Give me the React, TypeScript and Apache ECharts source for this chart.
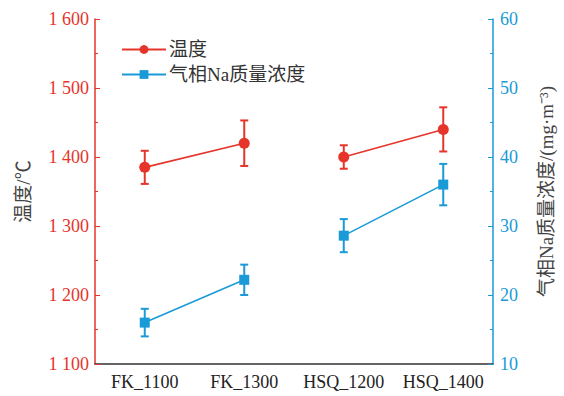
import React, { useEffect, useRef } from "react";
import * as echarts from "echarts";

const categories = ["FK_1100", "FK_1300", "HSQ_1200", "HSQ_1400"];
const tempValues = [1385, 1420, 1400, 1440];
const tempErr = [24, 33, 17, 32];
const naValues = [16, 22.2, 28.6, 36];
const naErr = [2, 2.2, 2.4, 3];
const groupOf = [0, 0, 1, 1];

const RED = "#e6342b";
const BLUE = "#1a9ad6";
const FONT = "'Liberation Serif', 'Noto Sans CJK SC', serif";

function errSeries(values: number[], errs: number[], color: string, yAxisIndex: number) {
  return {
    type: "custom",
    yAxisIndex,
    z: 1,
    silent: true,
    encode: { x: 0, y: [1, 2] },
    data: values.map((v, i) => [i, v - errs[i], v + errs[i]]),
    renderItem: (params: any, api: any) => {
      const lo = api.coord([api.value(0), api.value(1)]);
      const hi = api.coord([api.value(0), api.value(2)]);
      const hw = 4;
      const style = { stroke: color, lineWidth: 2 };
      return {
        type: "group",
        children: [
          { type: "line", shape: { x1: lo[0], y1: lo[1], x2: hi[0], y2: hi[1] }, style },
          { type: "line", shape: { x1: lo[0] - hw, y1: lo[1], x2: lo[0] + hw, y2: lo[1] }, style },
          { type: "line", shape: { x1: hi[0] - hw, y1: hi[1], x2: hi[0] + hw, y2: hi[1] }, style },
        ],
      };
    },
  };
}

function lineSeries(name: string, values: number[], g: number, color: string, symbol: string, yAxisIndex: number) {
  return {
    name,
    type: "line",
    yAxisIndex,
    z: 3,
    data: values.map((v, i) => (groupOf[i] === g ? v : "-")),
    symbol,
    symbolSize: symbol === "circle" ? 11 : 10,
    itemStyle: { color },
    lineStyle: { color, width: 1.6 },
    connectNulls: false,
  };
}

export default function App() {
  const ref = useRef<HTMLDivElement>(null);
  useEffect(() => {
    if (!ref.current) return;
    const chart = echarts.init(ref.current, undefined, { renderer: "svg" });
    chart.setOption({
      animation: false,
      backgroundColor: "#ffffff",
      grid: { left: 95, right: 70, top: 19, bottom: 32 },
      legend: {
        left: 116,
        top: 35,
        orient: "vertical",
        itemGap: 6,
        itemWidth: 44,
        itemHeight: 11,
        data: ["温度", "气相Na质量浓度"],
        textStyle: { fontFamily: FONT, fontSize: 19, color: "#333", padding: [0, 0, 0, -2] },
      },
      xAxis: {
        type: "category",
        data: categories,
        boundaryGap: true,
        axisLine: { lineStyle: { color: "#333", width: 1.5 } },
        axisTick: { alignWithLabel: true, inside: true, length: 6, lineStyle: { color: "#333" } },
        axisLabel: { interval: 0, hideOverlap: false, fontFamily: FONT, fontSize: 18, color: "#222", margin: 9 },
      },
      yAxis: [
        {
          type: "value",
          min: 1100,
          max: 1600,
          interval: 100,
          name: "温度/℃",
          nameLocation: "middle",
          nameRotate: 90,
          nameGap: 62,
          nameTextStyle: { fontFamily: FONT, fontSize: 19, color: "#444" },
          axisLine: { show: true, lineStyle: { color: RED, width: 1.5 } },
          axisTick: { show: true, inside: true, length: 5, lineStyle: { color: RED } },
          minorTick: { show: true, splitNumber: 2, length: 3, lineStyle: { color: RED } },
          splitLine: { show: false },
          axisLabel: {
            fontFamily: FONT,
            fontSize: 18,
            color: RED,
            margin: 6,
            formatter: (v: number) => {
              const s = String(v);
              return s.length > 3 ? s.slice(0, s.length - 3) + " " + s.slice(s.length - 3) : s;
            },
          },
        },
        {
          type: "value",
          min: 10,
          max: 60,
          interval: 10,
          position: "right",
          name: "气相Na质量浓度/(mg·m⁻³)",
          nameLocation: "middle",
          nameRotate: 90,
          nameGap: 44,
          nameTextStyle: { fontFamily: FONT, fontSize: 19, color: "#444" },
          axisLine: { show: true, lineStyle: { color: BLUE, width: 1.5 } },
          axisTick: { show: true, inside: true, length: 5, lineStyle: { color: BLUE } },
          minorTick: { show: true, splitNumber: 2, length: 3, lineStyle: { color: BLUE } },
          splitLine: { show: false },
          axisLabel: { fontFamily: FONT, fontSize: 18, color: BLUE, margin: 7 },
        },
      ],
      series: [
        errSeries(tempValues, tempErr, RED, 0),
        errSeries(naValues, naErr, BLUE, 1),
        lineSeries("温度", tempValues, 0, RED, "circle", 0),
        lineSeries("温度", tempValues, 1, RED, "circle", 0),
        lineSeries("气相Na质量浓度", naValues, 0, BLUE, "rect", 1),
        lineSeries("气相Na质量浓度", naValues, 1, BLUE, "rect", 1),
      ],
    });
    return () => chart.dispose();
  }, []);
  return <div ref={ref} style={{ width: 564, height: 396, position: "absolute", left: 0, top: 0 }} />;
}
